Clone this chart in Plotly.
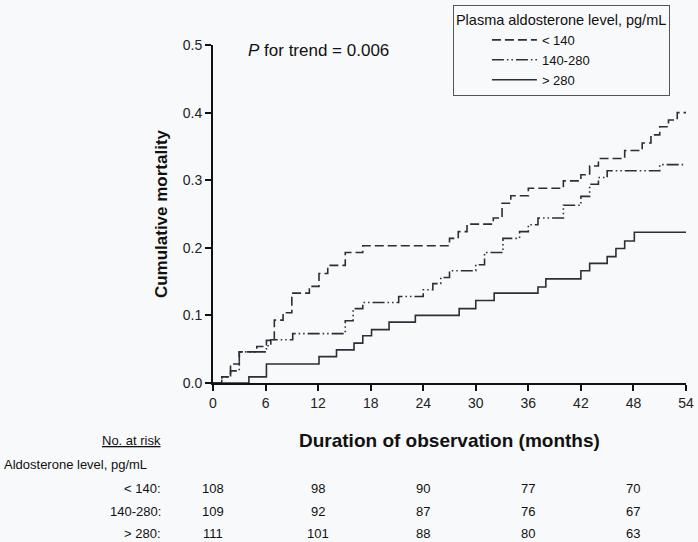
import plotly.graph_objects as go

# ---- data ----
t_low = [0, 1.0, 2.0, 3.0, 5.0, 6.1, 7.0, 8.0, 9.0, 11.0, 12.1, 13.1, 15.1, 17.1, 27.0, 28.0, 29.0,
         32.0, 33.0, 34.0, 36.0, 40.0, 42.0, 43.0, 44.0, 47.0, 49.0, 50.0, 51.0, 52.0, 53.0, 54.0]
m_low = [0, 0.009, 0.028, 0.046, 0.054, 0.063, 0.093, 0.104, 0.133, 0.143, 0.162, 0.174, 0.193, 0.203,
         0.214, 0.224, 0.235, 0.244, 0.266, 0.277, 0.288, 0.299, 0.308, 0.321, 0.332, 0.344, 0.355,
         0.367, 0.379, 0.389, 0.400, 0.400]

t_mid = [0, 1.0, 2.0, 3.0, 6.1, 6.6, 9.1, 15.1, 16.0, 17.1, 21.2, 24.0, 25.1, 26.0, 27.0, 30.0, 31.0,
         33.1, 35.0, 36.0, 37.1, 40.0, 42.0, 43.0, 44.0, 45.0, 51.0, 53.8]
m_mid = [0, 0.009, 0.018, 0.046, 0.055, 0.064, 0.073, 0.092, 0.110, 0.119, 0.128, 0.138, 0.147, 0.156,
         0.166, 0.175, 0.193, 0.214, 0.224, 0.234, 0.244, 0.263, 0.276, 0.294, 0.304, 0.314, 0.323, 0.323]

t_high = [0, 4.1, 6.1, 12.1, 14.1, 16.1, 17.1, 18.1, 20.1, 23.1, 28.1, 30.0, 32.1, 37.1, 38.0, 42.0,
          43.0, 45.0, 46.0, 47.0, 48.1, 54.0]
m_high = [0, 0.009, 0.028, 0.039, 0.049, 0.059, 0.070, 0.079, 0.090, 0.100, 0.110, 0.122, 0.133, 0.142,
          0.154, 0.166, 0.177, 0.187, 0.199, 0.210, 0.223, 0.223]

series_names = ["< 140", "140-280", "> 280"]
x_ticks = [0, 6, 12, 18, 24, 30, 36, 42, 48, 54]
y_ticks = [0.0, 0.1, 0.2, 0.3, 0.4, 0.5]
y_tick_labels = ["0.0", "0.1", "0.2", "0.3", "0.4", "0.5"]

risk_times = [0, 12, 24, 36, 48]
risk_rows = ["< 140:", "140-280:", "> 280:"]
risk_low = [108, 98, 90, 77, 70]
risk_mid = [109, 92, 87, 76, 67]
risk_high = [111, 101, 88, 80, 63]

FONT = "Arial, 'Liberation Sans', sans-serif"
LINE_COL = "#2b2f38"
BG = "#f8f9fa"

fig = go.Figure()
fig.add_trace(go.Scatter(x=t_low, y=m_low, mode="lines", line_shape="hv", name=series_names[0],
                         line=dict(color=LINE_COL, width=1.6, dash="9px,4px")))
fig.add_trace(go.Scatter(x=t_mid, y=m_mid, mode="lines", line_shape="hv", name=series_names[1],
                         line=dict(color=LINE_COL, width=1.6, dash="12px,3px,1.5px,3px,1.5px,3px")))
fig.add_trace(go.Scatter(x=t_high, y=m_high, mode="lines", line_shape="hv", name=series_names[2],
                         line=dict(color=LINE_COL, width=1.6)))

annotations = []
annotations.append(dict(x=0.07, y=0.985, xref="paper", yref="paper", xanchor="left", yanchor="middle",
                        text="<i>P</i> for trend = 0.006", showarrow=False,
                        font=dict(family=FONT, size=17, color="#111")))
# axis titles
annotations.append(dict(x=-0.134, y=0.5, xref="paper", yref="paper", textangle=-90,
                        text="<b>Cumulative mortality</b>", showarrow=False,
                        font=dict(family=FONT, size=17, color="#111")))
annotations.append(dict(x=0.5, y=-0.169, xref="paper", yref="paper", xanchor="center", yanchor="middle",
                        text="<b>Duration of observation (months)</b>", showarrow=False,
                        font=dict(family=FONT, size=19, color="#111")))
# number at risk table
annotations.append(dict(x=-0.1057, y=-0.169, xref="paper", yref="paper", xanchor="right", yanchor="middle",
                        text="<span style='text-decoration:underline'>No. at risk</span>", showarrow=False,
                        font=dict(family=FONT, size=13, color="#111")))
annotations.append(dict(x=-0.446, y=-0.2426, xref="paper", yref="paper", xanchor="left", yanchor="middle",
                        text="Aldosterone level, pg/mL", showarrow=False,
                        font=dict(family=FONT, size=13, color="#111")))
row_y = [-0.3136, -0.3787, -0.4438]
for lab, vals, yy in zip(risk_rows, [risk_low, risk_mid, risk_high], row_y):
    annotations.append(dict(x=-0.1057, y=yy, xref="paper", yref="paper", xanchor="right", yanchor="middle",
                            text=lab, showarrow=False, font=dict(family=FONT, size=13, color="#111")))
    for tt, v in zip(risk_times, vals):
        annotations.append(dict(x=tt, y=yy, xref="x", yref="paper", xanchor="center", yanchor="middle",
                                text=str(v), showarrow=False, font=dict(family=FONT, size=13, color="#111")))

fig.update_layout(
    width=698, height=542,
    margin=dict(l=213, r=12, t=45, b=159, autoexpand=False),
    paper_bgcolor=BG, plot_bgcolor=BG,
    font=dict(family=FONT, size=14, color="#222"),
    annotations=annotations,
    showlegend=True,
    legend=dict(
        title=dict(text="Plasma aldosterone level, pg/mL", font=dict(family=FONT, size=14.5, color="#111")),
        font=dict(family=FONT, size=13, color="#111"),
        x=0.966, xanchor="right", y=1.118, yanchor="top",
        bordercolor="#555", borderwidth=1, bgcolor=BG,
        indentation=33, itemwidth=45, tracegroupgap=0,
    ),
)
fig.update_xaxes(range=[0, 54], tickmode="array", tickvals=x_ticks, showgrid=False, zeroline=False,
                 showline=True, linecolor="#111", linewidth=2, ticks="outside", ticklen=6,
                 tickcolor="#111", tickwidth=1.5, tickfont=dict(family=FONT, size=14, color="#222"))
fig.update_yaxes(range=[0, 0.5], tickmode="array", tickvals=y_ticks, ticktext=y_tick_labels,
                 showgrid=False, zeroline=False, showline=True, linecolor="#111", linewidth=2,
                 ticks="outside", ticklen=6, tickcolor="#111", tickwidth=1.5,
                 tickfont=dict(family=FONT, size=14, color="#222"))

fig.write_html("out.html", config={"displayModeBar": False},
               post_script="document.body.style.margin='0px';")
